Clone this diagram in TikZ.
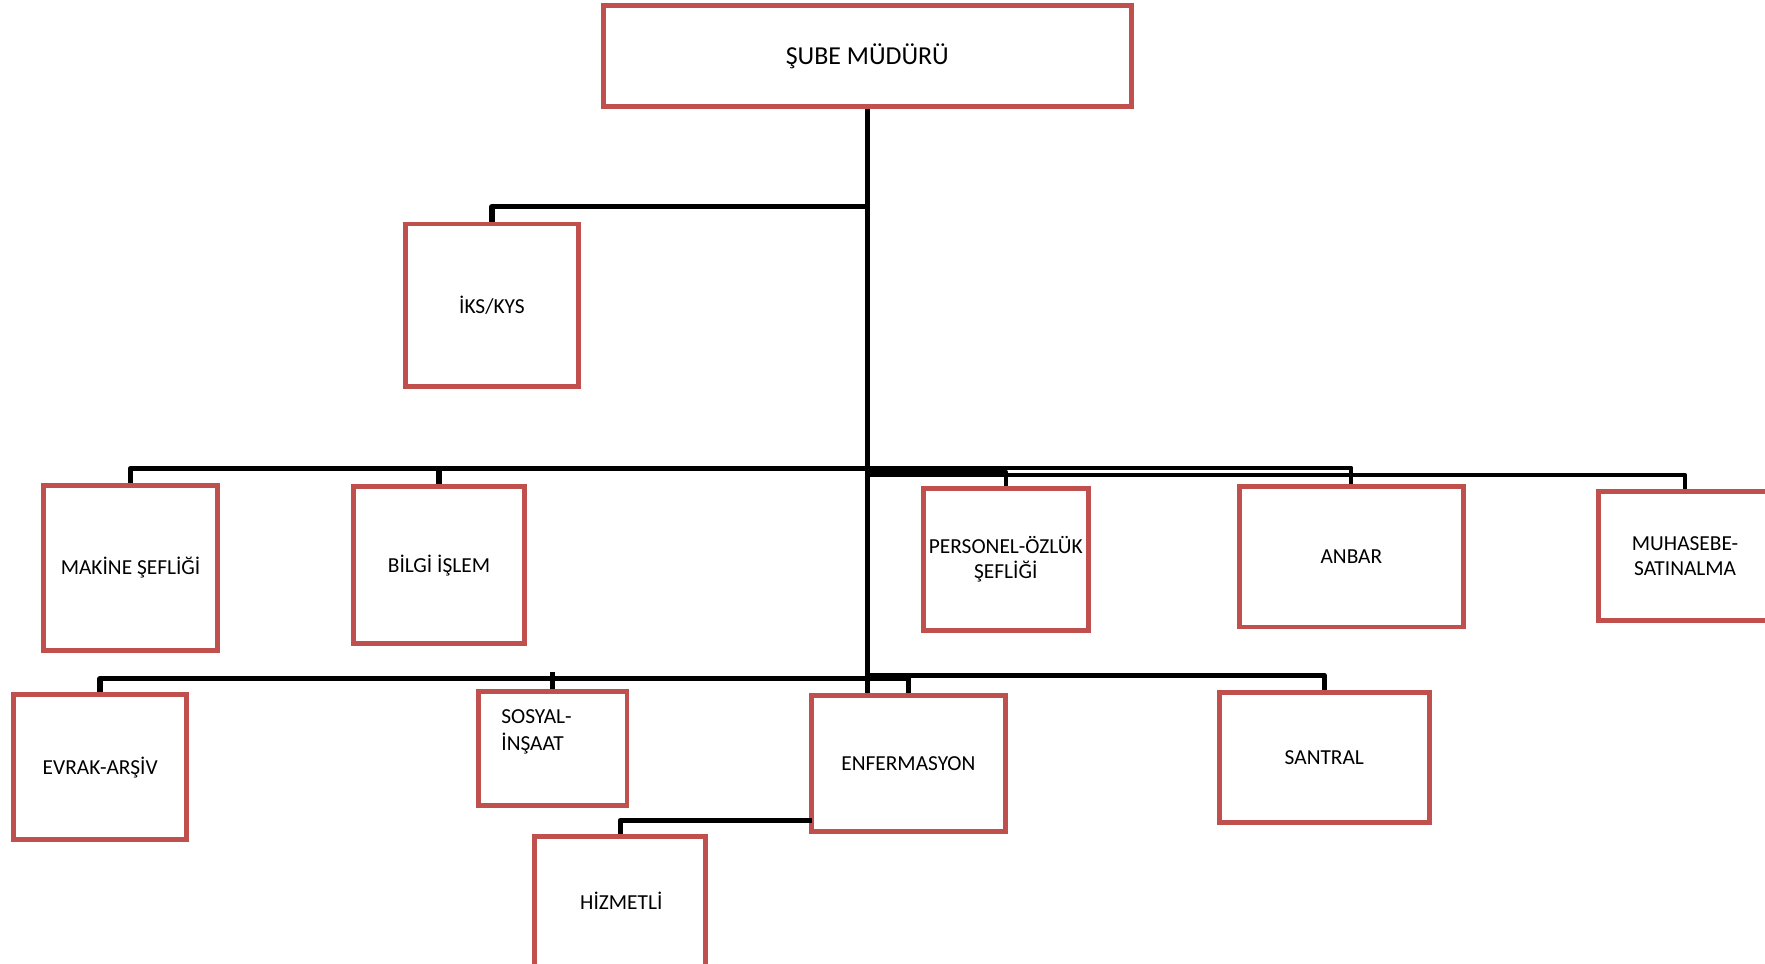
\documentclass[tikz,border=0pt]{standalone}
\usepackage{fontspec}
\setmainfont{Carlito}
\definecolor{boxred}{HTML}{C0504D}
\begin{document}
\begin{tikzpicture}[x=0.5pt,y=0.5pt,
  box/.style={draw=boxred, line width=2.2pt, fill=white, inner sep=0pt, align=center, font=\fontsize{9.5}{11}\selectfont},
  lbl/.style={inner sep=0pt, align=center, font=\fontsize{9.5}{11}\selectfont},
  conn/.style={line width=2.4pt, black, line join=round},
  thinconn/.style={line width=1.9pt, black, line join=round}]
\useasboundingbox (0,0) rectangle (1568,-856);
\clip (0,0) rectangle (1568,-856);
% boxes
\node[box, font=\fontsize{11.5}{14}\selectfont, minimum width=234.5pt, minimum height=45pt] (top) at (770.5,-50) {ŞUBE MÜDÜRÜ};
\node[box, minimum width=77pt, minimum height=72pt] (iks) at (437,-271) {İKS/KYS};
\node[box, minimum width=77pt, minimum height=73.5pt] (mak) at (116,-504.5) {MAKİNE ŞEFLİĞİ};
\node[box, minimum width=76pt, minimum height=70pt] (bil) at (390,-502) {BİLGİ İŞLEM};
\node[box, minimum width=73.5pt, minimum height=63pt] (per) at (893.5,-497) {PERSONEL-ÖZLÜK\\ŞEFLİĞİ};
\node[box, minimum width=99.5pt, minimum height=62.5pt] (anb) at (1200.5,-494.5) {ANBAR};
\node[box, minimum width=77pt, minimum height=57pt] (muh) at (1497,-494) {MUHASEBE-\\SATINALMA};
\node[box, minimum width=77pt, minimum height=64.5pt] (evr) at (89,-681.5) {EVRAK-ARŞİV};
\node[box, minimum width=66pt, minimum height=51pt] (sos) at (491,-665) {};
\node[anchor=north west, align=left, inner sep=0pt, font=\fontsize{9.5}{12}\selectfont] (sostext) at (445,-630) {SOSYAL-\\İNŞAAT};
\node[box, minimum width=86pt, minimum height=60.5pt] (enf) at (807,-678.5) {ENFERMASYON};
\node[box, minimum width=93.5pt, minimum height=58pt] (san) at (1176.5,-673) {SANTRAL};
\node[box, minimum width=76pt, minimum height=59.5pt] (hiz) at (551,-802.5) {};
\node[lbl] (hiztext) at (552,-800) {HİZMETLİ};
% junction points
\coordinate (jI) at (770.5,-183.5);
\coordinate (jL) at (770.5,-416);
\coordinate (jA) at (770.5,-415.5);
\coordinate (jB) at (770.5,-422);
\coordinate (jP) at (770.5,-419);
\coordinate (jC) at (770.5,-600);
\coordinate (jD) at (807,-603);
\coordinate (jS) at (491,-597);
\coordinate (jH) at (721,-729);
% connectors
\draw[conn] (top.south) -- (top.south |- enf.north);
\draw[conn] (iks.north) |- (jI);
\draw[conn] (mak.north) |- (jL);
\draw[conn] (bil.north) -- (bil.north |- jL);
\draw[thinconn] (jA) -| (anb.north);
\draw[thinconn] (jB) -| (muh.north);
\draw[thinconn] (jP) -| (per.north);
\draw[conn] (jC) -| (san.north);
\draw[conn] (evr.north) |- (jD) -- (enf.north);
\draw[conn] (jS) -- (sos.north);
\draw[conn] (jH) -| (hiz.north);
\end{tikzpicture}
\end{document}
